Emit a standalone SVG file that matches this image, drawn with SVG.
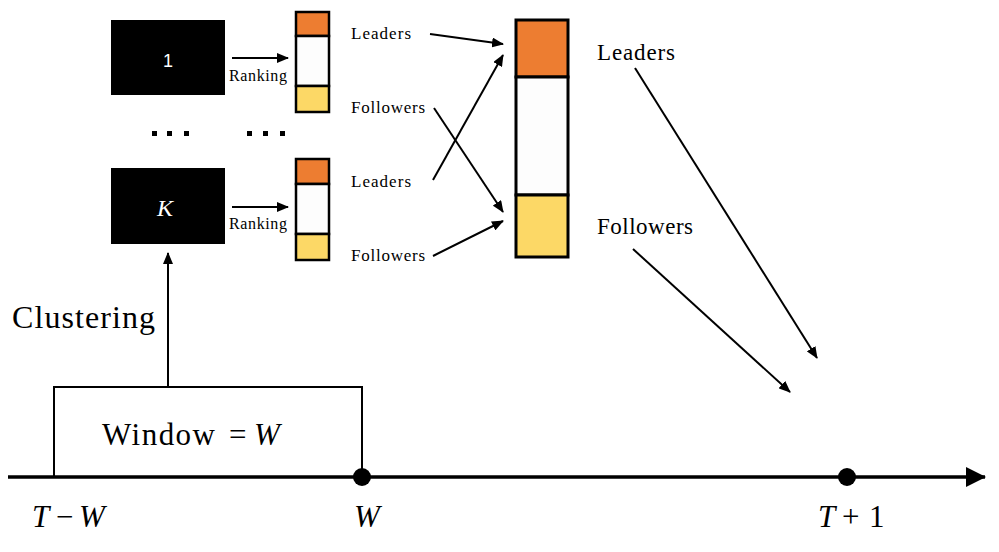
<svg xmlns="http://www.w3.org/2000/svg" width="999" height="552" viewBox="0 0 999 552">
<style>
.serif{font-family:'Liberation Serif','Times New Roman','DejaVu Serif','Noto Serif',Times,serif;fill:#000}
.math{font-family:'Liberation Serif','Times New Roman','DejaVu Serif','Noto Serif',Times,serif;font-style:italic;fill:#000}
.ln{stroke:#000;stroke-width:2;fill:none}
.col{stroke:#000;stroke-width:2.5}
.org{fill:#ED7D31}
.wht{fill:#FDFDFD}
.ylw{fill:#FCD866}
</style>
<defs>
<marker id="ah" markerUnits="userSpaceOnUse" markerWidth="12" markerHeight="10" refX="11" refY="5" orient="auto">
<path d="M0,0 L12,5 L0,10 Z" fill="#000"/>
</marker>
<marker id="big" markerUnits="userSpaceOnUse" markerWidth="20" markerHeight="20" refX="19" refY="10" orient="auto">
<path d="M0,0 L20,10 L0,20 Z" fill="#000"/>
</marker>
</defs>

<g id="cluster1">
<rect x="111" y="20" width="114" height="75" fill="#000"/>
<text x="168" y="67" font-family="Liberation Sans, Arial, sans-serif" font-size="18" fill="#fff" text-anchor="middle">1</text>
</g>
<g id="clusterK">
<rect x="111" y="168" width="114" height="76" fill="#000"/>
<text x="165" y="216" class="math" font-size="24" style="fill:#fff" text-anchor="middle">K</text>
</g>

<g id="dots">
<rect x="152" y="131" width="5" height="5"/>
<rect x="167" y="131" width="5" height="5"/>
<rect x="184" y="131" width="5" height="5"/>
<rect x="247" y="131" width="5" height="5"/>
<rect x="263" y="131" width="5" height="5"/>
<rect x="280" y="131" width="5" height="5"/>
</g>

<g id="rank1">
<rect x="296" y="12" width="33" height="24" class="col org"/>
<rect x="296" y="36" width="33" height="50" class="col wht"/>
<rect x="296" y="86" width="33" height="26" class="col ylw"/>
</g>
<g id="rankK">
<rect x="296" y="159" width="33" height="25" class="col org"/>
<rect x="296" y="184" width="33" height="50" class="col wht"/>
<rect x="296" y="234" width="33" height="26" class="col ylw"/>
</g>

<g id="merged">
<rect x="516" y="20" width="52" height="57" class="col org" style="stroke-width:3"/>
<rect x="516" y="77" width="52" height="118" class="col wht" style="stroke-width:3"/>
<rect x="516" y="195" width="52" height="62" class="col ylw" style="stroke-width:3"/>
</g>

<g id="labels">
<text x="229" y="81" class="serif" font-size="16" textLength="58">Ranking</text>
<text x="229" y="229" class="serif" font-size="16" textLength="58">Ranking</text>
<text x="351" y="39" class="serif" font-size="17" textLength="60">Leaders</text>
<text x="351" y="113" class="serif" font-size="17" textLength="74">Followers</text>
<text x="351" y="187" class="serif" font-size="17" textLength="60">Leaders</text>
<text x="351" y="261" class="serif" font-size="17" textLength="74">Followers</text>
<text x="597" y="60" class="serif" font-size="23" textLength="78">Leaders</text>
<text x="597" y="234" class="serif" font-size="23" textLength="96">Followers</text>
<text x="12" y="328" class="serif" font-size="32" textLength="143">Clustering</text>
</g>

<g id="window">
<path d="M54,477 V387 H362 V477" class="ln"/>
<text x="102" y="445" class="serif" font-size="31" textLength="113">Window</text>
<text x="229" y="445" class="serif" font-size="31">=</text>
<text x="254" y="445" class="math" font-size="31">W</text>
</g>

<g id="timeline">
<line x1="8" y1="477" x2="985" y2="477" stroke="#000" stroke-width="3.5" marker-end="url(#big)"/>
<circle cx="362" cy="477" r="9" fill="#000"/>
<circle cx="847" cy="477" r="9" fill="#000"/>
<text x="32" y="527" class="math" font-size="31">T</text>
<text x="56" y="527" class="serif" font-size="31">−</text>
<text x="79" y="527" class="math" font-size="31">W</text>
<text x="354" y="527" class="math" font-size="31">W</text>
<text x="818" y="527" class="math" font-size="31">T</text>
<text x="842" y="527" class="serif" font-size="31">+</text>
<text x="869" y="527" class="serif" font-size="31">1</text>
</g>

<g id="connectors">
<line x1="232" y1="58" x2="288" y2="58" class="ln" marker-end="url(#ah)"/>
<line x1="232" y1="207" x2="288" y2="207" class="ln" marker-end="url(#ah)"/>
<line x1="168" y1="387" x2="168" y2="253" class="ln" marker-end="url(#ah)"/>
<line x1="430" y1="34" x2="503" y2="44" class="ln" marker-end="url(#ah)"/>
<line x1="434" y1="108" x2="503" y2="212" class="ln" marker-end="url(#ah)"/>
<line x1="433" y1="180" x2="503" y2="55" class="ln" marker-end="url(#ah)"/>
<line x1="433" y1="256" x2="503" y2="221" class="ln" marker-end="url(#ah)"/>
<line x1="635" y1="68" x2="817" y2="358" class="ln" marker-end="url(#ah)"/>
<line x1="633" y1="249" x2="790" y2="392" class="ln" marker-end="url(#ah)"/>
</g>
</svg>
